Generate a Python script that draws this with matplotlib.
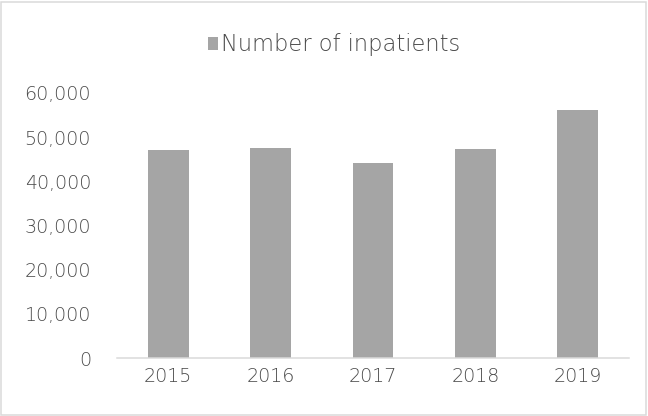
import matplotlib
matplotlib.use("Agg")
import matplotlib.pyplot as plt
from matplotlib.patches import Rectangle
from matplotlib.ticker import FuncFormatter

years = ["2015", "2016", "2017", "2018", "2019"]
inpatients = [47100, 47500, 44150, 47250, 56150]
series_name = "Number of inpatients"

bar_color = "#A5A5A5"
text_color = "#4A4A4A"
line_color = "#D9D9D9"

plt.rcParams["font.family"] = ["DejaVu Sans"]
plt.rcParams["font.weight"] = "light"

fig = plt.figure(figsize=(9, 416 / 72), dpi=72)
ax = fig.add_axes([117 / 648, 58 / 416, 512 / 648, 265 / 416])

# border around the whole chart
fig.patches.append(Rectangle((1 / 648, 1 / 416), 645 / 648, 413 / 416,
                             transform=fig.transFigure, fill=False,
                             edgecolor=line_color, linewidth=1.5))

pos = list(range(len(years)))
ax.bar(pos, inpatients, width=0.4, color=bar_color, label=series_name)
ax.set_xlim(-0.5, len(years) - 0.5)
ax.set_ylim(0, 60000)
ax.set_yticks(range(0, 60001, 10000))
ax.yaxis.set_major_formatter(FuncFormatter(lambda v, p: f"{int(v):,}"))
ax.set_xticks(pos)
ax.set_xticklabels(years)

for s in ["top", "right", "left"]:
    ax.spines[s].set_visible(False)
ax.spines["bottom"].set_color(line_color)
ax.spines["bottom"].set_linewidth(1.5)
ax.tick_params(axis="both", length=0, labelsize=19, colors=text_color)
ax.tick_params(axis="y", pad=26)
ax.tick_params(axis="x", pad=9)

fig.legend(loc="center", bbox_to_anchor=(334 / 648, 1 - 45 / 416),
           frameon=False, fontsize=22.5, labelcolor=text_color,
           handlelength=0.45, handleheight=0.45, handletextpad=0.15)

fig.savefig("out.png", dpi=72)
